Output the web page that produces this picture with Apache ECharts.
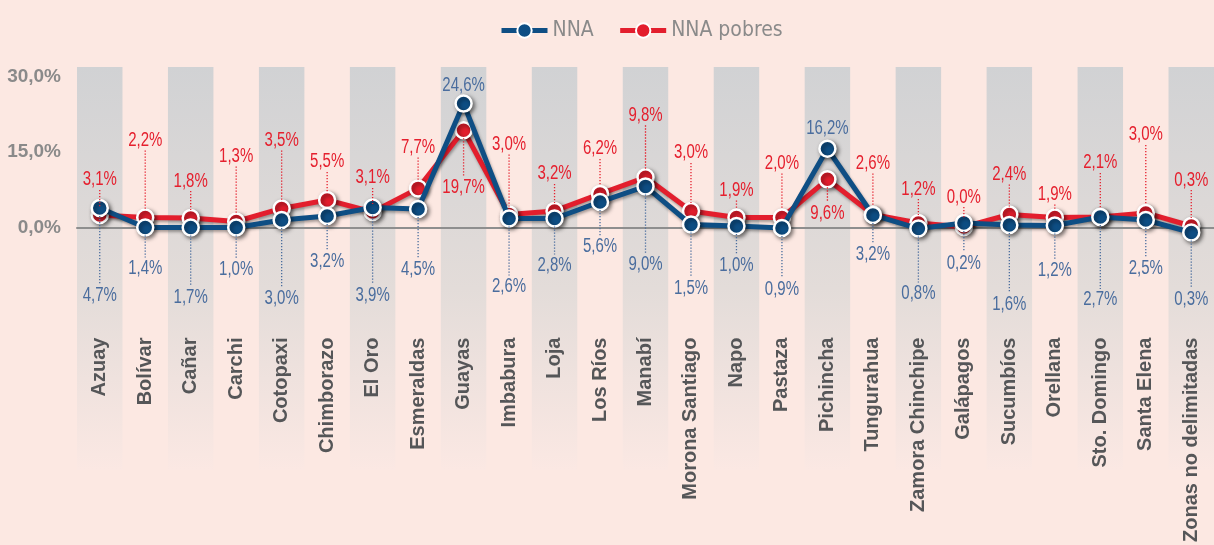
<!DOCTYPE html>
<html>
<head>
<meta charset="utf-8">
<script src="https://cdn.jsdelivr.net/npm/echarts@6/dist/echarts.min.js"></script>
<style>
    html, body { margin: 0; padding: 0; background: #fce8e2; }
    #chart { width: 1214px; height: 545px; }
</style>
</head>
<body>
<div id="chart"></div>
<script>
// provincias
const provincias = ['Azuay', 'Bolívar', 'Cañar', 'Carchi', 'Cotopaxi', 'Chimborazo', 'El Oro', 'Esmeraldas',
    'Guayas', 'Imbabura', 'Loja', 'Los Ríos', 'Manabí', 'Morona Santiago', 'Napo', 'Pastaza', 'Pichincha',
    'Tungurahua', 'Zamora Chinchipe', 'Galápagos', 'Sucumbíos', 'Orellana', 'Sto. Domingo', 'Santa Elena',
    'Zonas no delimitadas'];

// posición de los puntos tal como se ven en el gráfico
const nnaPuntos = [3.9, 0, 0, 0, 1.5, 2.3, 4.0, 3.7, 24.7, 1.8, 1.8, 5.1, 8.2, 0.6, 0.3, -0.1, 15.7, 2.5, -0.2, 0.9, 0.5, 0.4, 2.1, 1.5, -1.0];
const pobresPuntos = [2.5, 2.0, 1.9, 1.2, 3.8, 5.5, 3.1, 7.8, 19.4, 2.6, 3.3, 6.7, 10.0, 3.3, 2.0, 2.0, 9.6, 2.6, 0.9, 0.1, 2.6, 2.0, 2.1, 2.9, 0.3];

// valores impresos en las etiquetas
const nnaValores = [4.7, 1.4, 1.7, 1.0, 3.0, 3.2, 3.9, 4.5, 24.6, 2.6, 2.8, 5.6, 9.0, 1.5, 1.0, 0.9, 16.2, 3.2, 0.8, 0.2, 1.6, 1.2, 2.7, 2.5, 0.3];
const pobresValores = [3.1, 2.2, 1.8, 1.3, 3.5, 5.5, 3.1, 7.7, 19.7, 3.0, 3.2, 6.2, 9.8, 3.0, 1.9, 2.0, 9.6, 2.6, 1.2, 0.0, 2.4, 1.9, 2.1, 3.0, 0.3];

// desplazamiento vertical (px) de cada etiqueta respecto a su punto
const nnaDy = [88, 41, 70, 42, 78, 46, 88, 61, -18, 68, 47, 45, 78, 64, 39, 61, -20, 40, 65, 40, 79, 45, 83, 48, 67];
const pobresDy = [-35, -77, -37, -65, -68, -38, -34, -41, 57, -70, -37, -45, -62, -58, -27, -54, 34, -51, -34, -30, -40, -23, -54, -78, -46];

const AZUL = '#0e4e84';
const ROJO = '#e31e2d';
const AZUL_TXT = '#4a6d9e';
const ROJO_TXT = '#e5202e';
const SANS = '"Liberation Sans", Arial, sans-serif';

function fmt(v) {
    return v.toFixed(1).replace('.', ',') + '%';
}

// etiquetas con línea punteada (texto estrechado como en el original)
function renderEtiquetas(valores, dys, color) {
    return function(params, api) {
        const i = params.dataIndex;
        const p = api.coord([api.value(0), api.value(1)]);
        const dy = dys[i];
        const ly = p[1] + dy;
        const children = [];
        let y1, y2;
        if (dy < 0) {
            y1 = ly + 10; y2 = p[1] - 8;
        } else {
            y1 = p[1] + 8; y2 = ly - 11;
        }
        if (y2 - y1 > 2) {
            children.push({
                type: 'line',
                shape: { x1: p[0], y1: y1, x2: p[0], y2: y2 },
                style: { stroke: color, lineWidth: 1.3, lineDash: [1.3, 1.7] }
            });
        }
        children.push({
            type: 'text',
            x: p[0],
            y: ly,
            scaleX: 0.75,
            style: {
                text: fmt(valores[i]),
                fill: color,
                font: '20px ' + SANS,
                align: 'center',
                verticalAlign: 'middle'
            }
        });
        return { type: 'group', children: children };
    };
}

const chart = echarts.init(document.getElementById('chart'));

const bandas = new echarts.graphic.LinearGradient(0, 0, 0, 1, [
    { offset: 0, color: '#d1d2d4' },
    { offset: 0.55, color: '#e3dcd9' },
    { offset: 1, color: '#fbe8e3' }
]);

const option = {
    backgroundColor: '#fce8e2',
    animation: false,
    legend: {
        data: ['NNA', 'NNA pobres'],
        top: 15,
        left: 494,
        itemWidth: 46,
        itemHeight: 18,
        itemGap: 24,
        lineStyle: { width: 5 },
        itemStyle: { borderColor: '#fff', borderWidth: 2 },
        textStyle: { color: '#8a8a8a', fontSize: 21, fontFamily: '"DejaVu Sans Condensed", sans-serif' }
    },
    grid: [
        { left: 77, right: -2, top: 67, height: 403 },
        { left: 77, right: -2, top: 77, height: 153 }
    ],
    xAxis: [
        {
            gridIndex: 0,
            type: 'category',
            data: provincias,
            axisLine: { show: false },
            axisTick: { show: false },
            axisLabel: { show: false, interval: 0 },
            splitArea: { show: true, interval: 0, areaStyle: { color: [bandas, 'rgba(0,0,0,0)'] } }
        },
        {
            gridIndex: 1,
            type: 'category',
            data: provincias,
            axisLine: { show: true, lineStyle: { color: '#8e8e8e', width: 2 } },
            axisTick: { show: false },
            axisLabel: {
                rotate: 90,
                margin: 110,
                interval: 0,
                color: '#555658',
                fontSize: 20,
                fontWeight: 'bold',
                fontFamily: SANS
            }
        }
    ],
    yAxis: [
        { gridIndex: 0, type: 'value', show: false, splitLine: { show: false } },
        {
            gridIndex: 1,
            type: 'value',
            min: 0,
            max: 30,
            interval: 15,
            splitLine: { show: false },
            axisLine: { show: false },
            axisTick: { show: false },
            axisLabel: {
                margin: 16,
                color: '#8a8a8a',
                fontSize: 19,
                fontWeight: 'bold',
                fontFamily: SANS,
                formatter: fmt
            }
        }
    ],
    series: [
        {
            name: 'NNA pobres',
            type: 'line',
            xAxisIndex: 1,
            yAxisIndex: 1,
            data: pobresPuntos,
            clip: false,
            symbol: 'circle',
            symbolSize: 16,
            color: ROJO,
            lineStyle: { width: 5, color: ROJO, shadowBlur: 3, shadowColor: 'rgba(0,0,0,0.35)', shadowOffsetX: 1, shadowOffsetY: 2 },
            itemStyle: { color: ROJO, borderColor: '#fff', borderWidth: 2.5, shadowBlur: 4, shadowColor: 'rgba(0,0,0,0.5)', shadowOffsetX: 2, shadowOffsetY: 2 },
            z: 3
        },
        {
            name: 'NNA',
            type: 'line',
            xAxisIndex: 1,
            yAxisIndex: 1,
            data: nnaPuntos,
            clip: false,
            symbol: 'circle',
            symbolSize: 16,
            color: AZUL,
            lineStyle: { width: 5, color: AZUL, shadowBlur: 3, shadowColor: 'rgba(0,0,0,0.35)', shadowOffsetX: 1, shadowOffsetY: 2 },
            itemStyle: { color: AZUL, borderColor: '#fff', borderWidth: 2.5, shadowBlur: 4, shadowColor: 'rgba(0,0,0,0.5)', shadowOffsetX: 2, shadowOffsetY: 2 },
            z: 4
        },
        {
            name: 'etiquetas pobres',
            type: 'custom',
            xAxisIndex: 1,
            yAxisIndex: 1,
            data: pobresPuntos.map((v, i) => [i, v]),
            renderItem: renderEtiquetas(pobresValores, pobresDy, ROJO_TXT),
            z: 5,
            silent: true
        },
        {
            name: 'etiquetas NNA',
            type: 'custom',
            xAxisIndex: 1,
            yAxisIndex: 1,
            data: nnaPuntos.map((v, i) => [i, v]),
            renderItem: renderEtiquetas(nnaValores, nnaDy, AZUL_TXT),
            z: 5,
            silent: true
        }
    ]
};

chart.setOption(option);
</script>
</body>
</html>
